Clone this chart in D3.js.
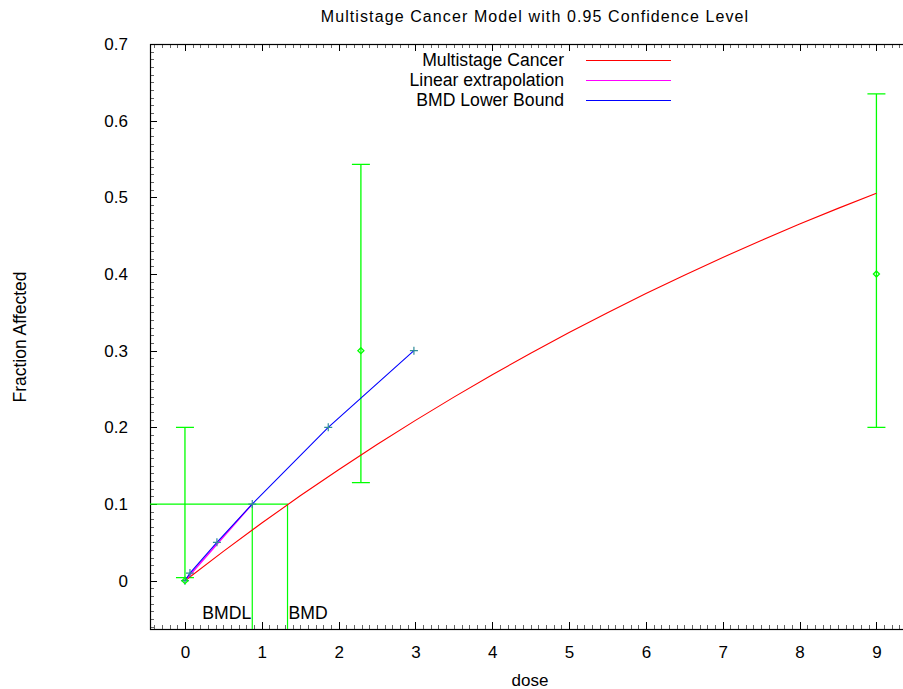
<!DOCTYPE html>
<html><head><meta charset="utf-8">
<script src="https://cdn.jsdelivr.net/npm/d3@7"></script>
<style>
html,body{margin:0;padding:0;background:#fff;}
text{font-family:"Liberation Sans",Arial,sans-serif;fill:#000;}
</style></head>
<body>
<svg id="chart" width="903" height="689"></svg>
<script>
// ---- data ----
const obsDose = [0, 2.29, 9];
const obsFrac = [0, 0.3, 0.4];
const obsLow = [0.004, 0.128, 0.2];
const obsHigh = [0.2, 0.543, 0.635];

const curveDose = [0,0.5,1,1.5,2,2.5,3,3.5,4,4.5,5,5.5,6,6.5,7,7.5,8,8.5,9];
const curveFrac = [0,0.0383,0.0752,0.1107,0.1448,0.1776,0.2091,0.2394,0.2686,0.2966,0.3236,0.3496,0.3745,0.3985,0.4216,0.4437,0.4651,0.4856,0.5053];

const bmdlDose = [0, 0.065, 0.416, 0.876, 1.865, 2.98];
const bmdlFrac = [0, 0.01, 0.05, 0.1, 0.2, 0.3];

const linDose = [0, 0.876];
const linFrac = [0, 0.1];

const bmr = 0.1, bmd = 1.335, bmdl = 0.876;

const xTicks = [0,1,2,3,4,5,6,7,8,9];
const yTicks = [0,0.1,0.2,0.3,0.4,0.5,0.6,0.7];
const legendLabels = ["Multistage Cancer","Linear extrapolation","BMD Lower Bound"];
const legendColors = ["#ff0000","#ff00ff","#0000ff"];

// ---- layout ----
const svg = d3.select("#chart");
const L = 150, R = 911, T = 44, B = 629;
const x = d3.scaleLinear().domain([-0.455, 9.45]).range([L, R]);
const y = d3.scaleLinear().domain([-0.063, 0.7]).range([B, T]);
const green = "#00ff00";

svg.append("defs").append("clipPath").attr("id","clip")
  .append("rect").attr("x",L).attr("y",T).attr("width",R-L).attr("height",B-T);

// axes
const minorX = d3.range(-4, 95).map(i => i/10).filter(v => !xTicks.includes(Math.round(v*10)/10));
const minorY = d3.range(-6, 70).map(i => i/100).filter(v => Math.round(v*100)%10 !== 0);

const gB = svg.append("g").attr("transform",`translate(0,${B})`)
  .call(d3.axisBottom(x).tickValues(xTicks).tickSizeInner(-7).tickSizeOuter(0).tickPadding(17).tickFormat(d3.format("d")));
const gT = svg.append("g").attr("transform",`translate(0,${T})`)
  .call(d3.axisTop(x).tickValues(xTicks).tickSizeInner(-7).tickSizeOuter(0).tickFormat(""));
const gL = svg.append("g").attr("transform",`translate(${L},0)`)
  .call(d3.axisLeft(y).tickValues(yTicks).tickSizeInner(-7).tickSizeOuter(0).tickPadding(22).tickFormat(d => d===0?"0":d3.format(".1f")(d)));
const gBm = svg.append("g").attr("transform",`translate(0,${B})`)
  .call(d3.axisBottom(x).tickValues(minorX).tickSizeInner(-4).tickSizeOuter(0).tickFormat(""));
const gTm = svg.append("g").attr("transform",`translate(0,${T})`)
  .call(d3.axisTop(x).tickValues(minorX).tickSizeInner(-4).tickSizeOuter(0).tickFormat(""));
const gLm = svg.append("g").attr("transform",`translate(${L},0)`)
  .call(d3.axisLeft(y).tickValues(minorY).tickSizeInner(-4).tickSizeOuter(0).tickFormat(""));
[gB,gT,gL,gBm,gTm,gLm].forEach(g => {
  g.select(".domain").remove();
  g.selectAll("line").attr("stroke","#000").attr("shape-rendering","crispEdges");
  g.selectAll("text").attr("font-size",17).attr("font-family","Liberation Sans, Arial, sans-serif").attr("fill","#000");
});
[gBm,gTm,gLm].forEach(g => g.selectAll("line").attr("stroke","#666"));

// frame
svg.append("rect").attr("x",L+0.5).attr("y",T+0.5).attr("width",R-L).attr("height",B-T)
  .attr("fill","none").attr("stroke","#000").attr("stroke-width",1.2);

const plot = svg.append("g").attr("clip-path","url(#clip)");

// BMD / BMDL guide lines
plot.append("path").attr("fill","none").attr("stroke",green).attr("stroke-width",1.2)
  .attr("d", `M${x(-0.455)},${y(bmr)}H${x(bmd)}V${B}M${x(bmdl)},${y(bmr)}V${B}`);

// error bars
obsDose.forEach((d,i) => {
  const cx = x(d);
  plot.append("path").attr("fill","none").attr("stroke",green).attr("stroke-width",1.3)
    .attr("d", `M${cx},${y(obsLow[i])}V${y(obsHigh[i])}M${cx-9},${y(obsHigh[i])}h18M${cx-9},${y(obsLow[i])}h18`);
});

const line = d3.line().x(d => x(d[0])).y(d => y(d[1]));
// model curve
plot.append("path").attr("fill","none").attr("stroke","#ff0000").attr("stroke-width",1.1)
  .attr("d", line(curveDose.map((d,i)=>[d,curveFrac[i]])));
// linear extrapolation
plot.append("path").attr("fill","none").attr("stroke","#ff00ff").attr("stroke-width",1.4)
  .attr("d", line(linDose.map((d,i)=>[d,linFrac[i]])));
// BMDL line
plot.append("path").attr("fill","none").attr("stroke","#0000ff").attr("stroke-width",1.1)
  .attr("d", line(bmdlDose.map((d,i)=>[d,bmdlFrac[i]])));
// + markers
bmdlDose.forEach((d,i) => {
  const cx = x(d), cy = y(bmdlFrac[i]);
  plot.append("path").attr("fill","none").attr("stroke","#2f8c9a").attr("stroke-width",1.2)
    .attr("d", `M${cx-4},${cy}h8M${cx},${cy-4}v8`);
});
// diamonds
obsDose.forEach((d,i) => {
  const cx = x(d), cy = y(obsFrac[i]);
  plot.append("path").attr("fill","none").attr("stroke",green).attr("stroke-width",1.3)
    .attr("d", `M${cx},${cy-3}L${cx+3},${cy}L${cx},${cy+3}L${cx-3},${cy}Z`);
});

// BMD labels
svg.append("text").attr("x",x(bmdl)-1).attr("y",619).attr("text-anchor","end").attr("font-size",17.6).text("BMDL");
svg.append("text").attr("x",x(bmd)+1).attr("y",619).attr("text-anchor","start").attr("font-size",17.6).text("BMD");

// legend
legendLabels.forEach((lab,i) => {
  const cy = 60 + i*20;
  svg.append("text").attr("x",564).attr("y",cy+6).attr("text-anchor","end").attr("font-size",17.6).text(lab);
  svg.append("line").attr("x1",586).attr("x2",671).attr("y1",cy+0.5).attr("y2",cy+0.5)
    .attr("stroke",legendColors[i]).attr("stroke-width",1.2);
});

// titles
svg.append("text").attr("x",535).attr("y",22).attr("text-anchor","middle").attr("font-size",16)
  .attr("letter-spacing","1.1px").text("Multistage Cancer Model with 0.95 Confidence Level");
svg.append("text").attr("x",530).attr("y",686).attr("text-anchor","middle").attr("font-size",17).text("dose");
svg.append("text").attr("transform","translate(26,337) rotate(-90)").attr("text-anchor","middle").attr("font-size",17.5).text("Fraction Affected");
</script>
</body></html>
